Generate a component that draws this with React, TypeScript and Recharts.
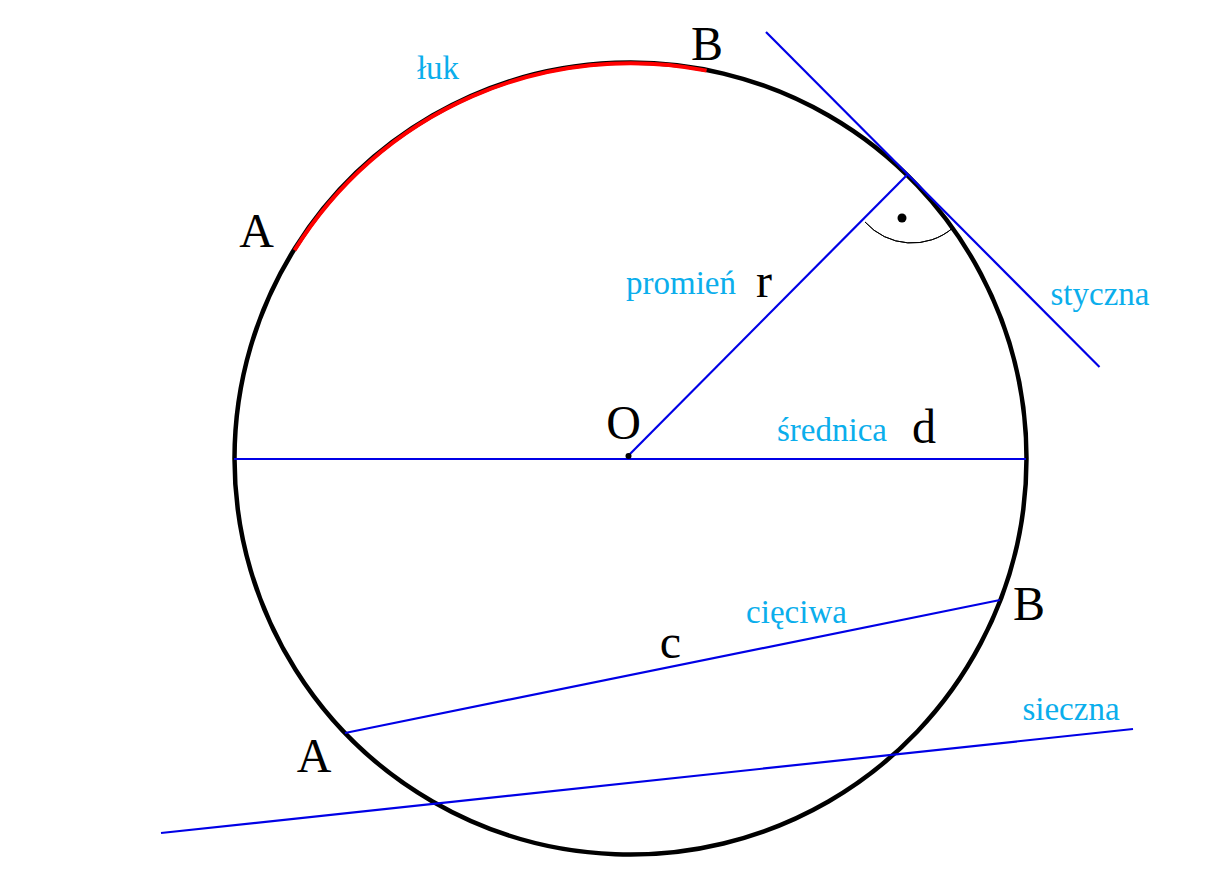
import { ComposedChart, Line, PieChart, Pie, ReferenceDot, Scatter, XAxis, YAxis } from 'recharts';

const W = 1214;
const H = 885;

const diameter = [{ x: 234, y: 459 }, { x: 1026, y: 459 }];
const radius = [{ x: 628, y: 456 }, { x: 907, y: 175 }];
const tangent = [{ x: 766, y: 32 }, { x: 1099.5, y: 367 }];
const chord = [{ x: 345, y: 733 }, { x: 1000, y: 600 }];
const secant = [{ x: 161, y: 833 }, { x: 1133, y: 729 }];
const segments = [diameter, radius, tangent, chord, secant];

const centerDot = [{ x: 628.5, y: 456 }];
const angleDot = [{ x: 902, y: 218 }];

const circleSlice = [{ name: 'okrąg', value: 360 }];
const arcSlice = [{ name: 'łuk', value: 69.3 }];
const angleSlice = [{ name: 'kąt', value: 88.7 }];

const blackLabels = [
  { text: 'B', x: 707, y: 43 },
  { text: 'A', x: 256.5, y: 230 },
  { text: 'r', x: 764, y: 280 },
  { text: 'O', x: 623.5, y: 422 },
  { text: 'd', x: 924, y: 426 },
  { text: 'B', x: 1029, y: 603 },
  { text: 'c', x: 670.5, y: 641 },
  { text: 'A', x: 314, y: 755 },
];
const blueLabels = [
  { text: 'łuk', x: 438, y: 67 },
  { text: 'promień', x: 681, y: 282 },
  { text: 'styczna', x: 1100, y: 293 },
  { text: 'średnica', x: 832, y: 429 },
  { text: 'cięciwa', x: 796.5, y: 611 },
  { text: 'sieczna', x: 1071, y: 708 },
];

const FONT = '"Liberation Serif", serif';
const BLUE = '#0000E6';
const SKY = '#0BAEEC';

export default function App() {
  return (
    <div style={{ position: 'absolute', left: 0, top: 0, width: W, height: H, background: '#fff' }}>
      {/* circle and arcs */}
      <div style={{ position: 'absolute', left: 0, top: 0 }}>
        <PieChart width={W} height={H} margin={{ top: 0, right: 0, bottom: 0, left: 0 }}>
          <Pie
            data={circleSlice}
            dataKey="value"
            cx={630.5}
            cy={458.5}
            innerRadius={396}
            outerRadius={396}
            startAngle={0}
            endAngle={360}
            fill="none"
            stroke="#000"
            strokeWidth={4.5}
            isAnimationActive={false}
          />
          <Pie
            data={arcSlice}
            dataKey="value"
            cx={630.5}
            cy={458.5}
            innerRadius={395.3}
            outerRadius={395.3}
            startAngle={148.2}
            endAngle={78.9}
            fill="none"
            stroke="#FF0000"
            strokeWidth={4}
            isAnimationActive={false}
          />
          <Pie
            data={angleSlice}
            dataKey="value"
            cx={912}
            cy={180}
            innerRadius={63}
            outerRadius={63}
            startAngle={221.8}
            endAngle={310.5}
            fill="none"
            stroke="#000"
            strokeWidth={1}
            isAnimationActive={false}
          />
        </PieChart>
      </div>

      {/* straight lines, dots and labels */}
      <div style={{ position: 'absolute', left: 0, top: 0 }}>
        <ComposedChart width={W} height={H} margin={{ top: 0, right: 0, bottom: 0, left: 0 }}>
          <XAxis type="number" dataKey="x" domain={[0, W]} hide />
          <YAxis type="number" dataKey="y" domain={[0, H]} reversed hide />
          {segments.map((seg, i) => (
            <Line
              key={i}
              data={seg}
              dataKey="y"
              stroke={BLUE}
              strokeWidth={2.2}
              dot={false}
              activeDot={false}
              isAnimationActive={false}
            />
          ))}
          <Scatter data={centerDot} dataKey="y" fill="#000" shape={(p: any) => <circle cx={p.cx} cy={p.cy} r={3} fill="#000" />} isAnimationActive={false} />
          <Scatter data={angleDot} dataKey="y" fill="#000" shape={(p: any) => <circle cx={p.cx} cy={p.cy} r={4.5} fill="#000" />} isAnimationActive={false} />
          {blackLabels.map((l, i) => (
            <ReferenceDot
              key={'k' + i}
              x={l.x}
              y={l.y}
              r={0}
              stroke="none"
              label={{ value: l.text, position: 'center', fill: '#000', fontSize: 48, fontFamily: FONT }}
            />
          ))}
          {blueLabels.map((l, i) => (
            <ReferenceDot
              key={'b' + i}
              x={l.x}
              y={l.y}
              r={0}
              stroke="none"
              label={{ value: l.text, position: 'center', fill: SKY, fontSize: 33, fontFamily: FONT }}
            />
          ))}
        </ComposedChart>
      </div>
    </div>
  );
}
